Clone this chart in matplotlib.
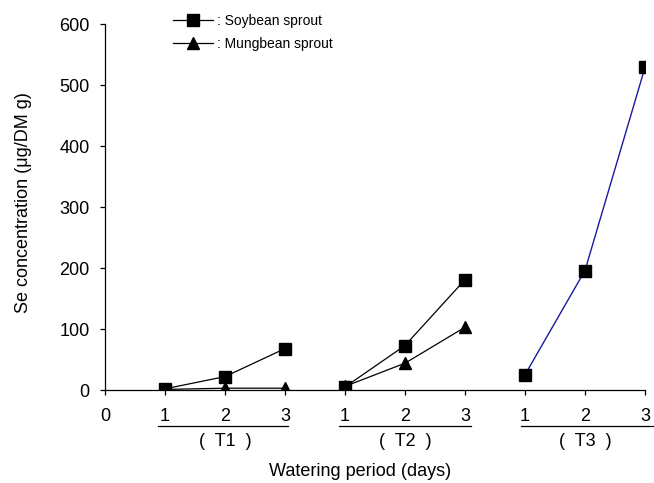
import matplotlib
matplotlib.use("Agg")
import matplotlib.pyplot as plt
from matplotlib.lines import Line2D
import matplotlib.transforms as mtransforms

plt.rcParams["font.family"] = ["Liberation Sans", "DejaVu Sans"]

# watering period positions on the shared x axis
groups = ["T1", "T2", "T3"]
pos_t1 = [1, 2, 3]
pos_t2 = [4, 5, 6]
pos_t3 = [7, 8, 9]
tick_pos = [0, 1, 2, 3, 4, 5, 6, 7, 8, 9]
tick_labels = ["0", "1", "2", "3", "1", "2", "3", "1", "2", "3"]

# Se concentration (ug/DM g)
soy_t1 = [2, 22, 68]
soy_t2 = [5, 73, 181]
soy_t3 = [25, 196, 529]
mung_t1 = [1, 3, 3]
mung_t2 = [6, 44, 103]

fig = plt.figure(figsize=(6.54, 4.83), dpi=100)
ax = fig.add_axes([0.1606, 0.1925, 0.8256, 0.7575])

line_kw = dict(color="black", lw=0.9, markersize=8)
ax.plot(pos_t1, soy_t1, marker="s", **line_kw)
ax.plot(pos_t1, mung_t1, marker="^", **line_kw)
ax.plot(pos_t2, soy_t2, marker="s", **line_kw)
ax.plot(pos_t2, mung_t2, marker="^", **line_kw)
ax.plot(pos_t3, soy_t3, marker="s", color="black", lw=0, markersize=8, zorder=3)
ax.plot(pos_t3, soy_t3, color="#1a1aa0", lw=1.0, zorder=2)

ax.set_xlim(0, 9)
ax.set_ylim(0, 600)
ax.set_yticks(range(0, 601, 100))
ax.set_xticks(tick_pos)
ax.set_xticklabels(tick_labels)
for s in ["top", "right"]:
    ax.spines[s].set_visible(False)
for s in ["left", "bottom"]:
    ax.spines[s].set_linewidth(0.9)
ax.tick_params(direction="out", length=3.6, width=0.9, labelsize=13)
ax.tick_params(axis="x", pad=9)
ax.tick_params(axis="y", pad=7.5)

ax.set_ylabel("Se concentration (μg/DM g)", fontsize=13)
ax.yaxis.set_label_coords(-0.135, 0.513)
ax.set_xlabel("Watering period (days)", fontsize=13)
ax.xaxis.set_label_coords(0.472, -0.2)

# group underlines and labels below the tick labels
trans = mtransforms.blended_transform_factory(ax.transData, ax.transAxes)
spans = [(0.88, 3.05), (3.9, 6.1), (6.93, 9.3)]
for name, (x0, x1), p in zip(groups, spans, [pos_t1, pos_t2, pos_t3]):
    ax.plot([x0, x1], [-0.098, -0.098], transform=trans, color="black",
            lw=0.9, clip_on=False)
    ax.text(p[1], -0.142, "(  %s  )" % name, transform=trans, ha="center",
            va="center", fontsize=13)

handles = [
    Line2D([], [], color="black", lw=0.9, marker="s", markersize=8),
    Line2D([], [], color="black", lw=0.9, marker="^", markersize=8),
]
fig.legend(handles, [": Soybean sprout", ": Mungbean sprout"],
           loc="upper left", bbox_to_anchor=(173 / 654, 1 - 14 / 483),
           frameon=False, fontsize=10, handlelength=2.9, handletextpad=0.25,
           borderpad=0, borderaxespad=0, labelspacing=0.65)

fig.savefig("out.png", dpi=100)
